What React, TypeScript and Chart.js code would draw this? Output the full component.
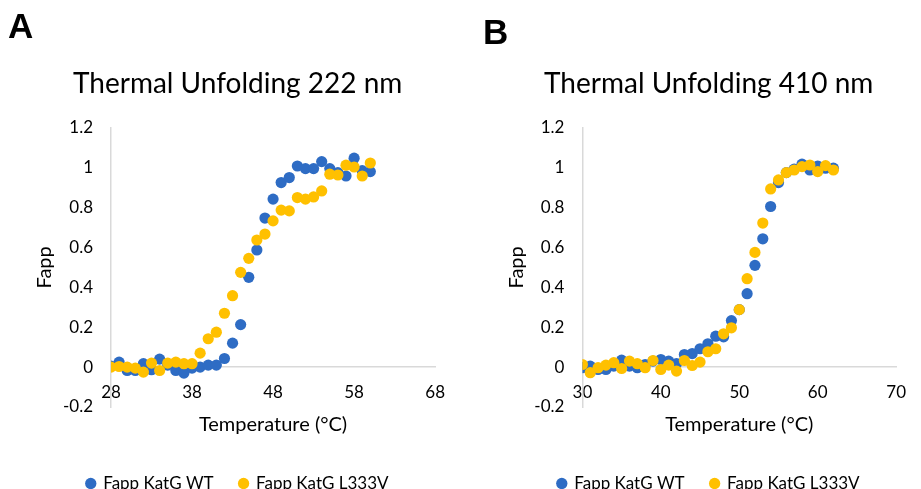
import React, { useEffect, useRef } from 'react';
import { Chart, registerables } from 'chart.js';

Chart.register(...registerables);

// ---------- data ----------
const tempsA = [28, 29, 30, 31, 32, 33, 34, 35, 36, 37, 38, 39, 40, 41, 42, 43, 44, 45, 46, 47, 48, 49, 50, 51, 52, 53, 54, 55, 56, 57, 58, 59, 60];
const wtA = [0.005, 0.025, -0.017, -0.017, 0.017, -0.013, 0.04, 0.01, -0.017, -0.03, -0.005, 0.0, 0.01, 0.01, 0.043, 0.12, 0.213, 0.45, 0.587, 0.747, 0.842, 0.925, 0.95, 1.008, 0.995, 0.995, 1.03, 0.995, 0.975, 0.958, 1.047, 0.985, 0.98];
const mutA = [0.0, 0.003, 0.0, -0.005, -0.025, 0.02, -0.017, 0.02, 0.025, 0.017, 0.017, 0.07, 0.142, 0.175, 0.27, 0.358, 0.475, 0.545, 0.637, 0.667, 0.733, 0.787, 0.783, 0.85, 0.842, 0.853, 0.883, 0.967, 0.963, 1.012, 1.003, 0.958, 1.023];

const tempsB = [30, 31, 32, 33, 34, 35, 36, 37, 38, 39, 40, 41, 42, 43, 44, 45, 46, 47, 48, 49, 50, 51, 52, 53, 54, 55, 56, 57, 58, 59, 60, 61, 62];
const wtB = [-0.003, 0.005, -0.012, -0.012, 0.005, 0.035, 0.005, -0.003, 0.013, 0.03, 0.038, 0.03, 0.018, 0.063, 0.068, 0.092, 0.117, 0.155, 0.152, 0.233, 0.288, 0.368, 0.51, 0.643, 0.805, 0.925, 0.975, 0.992, 1.017, 0.988, 1.008, 0.997, 0.997];
const mutB = [0.013, -0.028, -0.003, 0.01, 0.022, -0.007, 0.03, 0.017, -0.003, 0.033, -0.012, 0.01, -0.02, 0.033, 0.008, 0.025, 0.077, 0.092, 0.167, 0.197, 0.288, 0.443, 0.575, 0.722, 0.893, 0.938, 0.975, 0.988, 1.005, 1.013, 0.98, 1.01, 0.988];

const xTicksA = [28, 38, 48, 58, 68];
const xTicksB = [30, 40, 50, 60, 70];
const yTicks = [-0.2, 0, 0.2, 0.4, 0.6, 0.8, 1, 1.2];

const seriesNames = ['Fapp KatG WT', 'Fapp KatG L333V'];
const chartTitles = ['Thermal Unfolding 222 nm', 'Thermal Unfolding 410 nm'];
const xAxisTitle = 'Temperature (°C)';
const yAxisTitle = 'Fapp';
const panelLetters = ['A', 'B'];

// ---------- styles ----------
const BLUE = '#2E6CC4';
const GOLD = '#FFC000';
const AXIS = '#D9D9D9';
const FONT = 'Lato';

type PanelProps = {
  temps: number[];
  wt: number[];
  mut: number[];
  xTicks: number[];
  title: string;
  left: number;
  width: number;
  padL: number;
  padR: number;
};

function Panel(p: PanelProps) {
  const ref = useRef<HTMLCanvasElement | null>(null);
  useEffect(() => {
    if (!ref.current) return;
    const xMin = p.xTicks[0];
    const xMax = p.xTicks[p.xTicks.length - 1];
    const chart = new Chart(ref.current, {
      type: 'scatter',
      data: {
        datasets: [
          {
            label: seriesNames[0],
            data: p.temps.map((t, i) => ({ x: t, y: p.wt[i] })),
            backgroundColor: BLUE,
            borderColor: BLUE,
            borderWidth: 0,
            pointRadius: 5.6,
            pointHoverRadius: 5.6,
            pointStyle: 'circle',
            order: 1,
          },
          {
            label: seriesNames[1],
            data: p.temps.map((t, i) => ({ x: t, y: p.mut[i] })),
            backgroundColor: GOLD,
            borderColor: GOLD,
            borderWidth: 0,
            pointRadius: 5.6,
            pointHoverRadius: 5.6,
            pointStyle: 'circle',
            order: 0,
          },
        ],
      },
      options: {
        responsive: false,
        animation: false,
        devicePixelRatio: 1,
        events: [],
        layout: { padding: { left: p.padL, right: p.padR, top: 0, bottom: 0 } },
        plugins: {
          title: {
            display: true,
            text: p.title,
            color: '#000',
            font: { family: FONT, size: 28, weight: 'normal' },
            padding: { top: 67.2, bottom: 26.9 },
          },
          legend: {
            position: 'bottom',
            labels: {
              usePointStyle: true,
              boxWidth: 8,
              boxHeight: 8,
              padding: 26,
              color: '#000',
              font: { family: FONT, size: 17 },
              sort: (a: any, b: any) => a.datasetIndex - b.datasetIndex,
            },
          },
          tooltip: { enabled: false },
        },
        scales: {
          x: {
            type: 'linear',
            position: { y: 0 },
            min: xMin,
            max: xMax,
            afterBuildTicks: (s: any) => {
              s.ticks = p.xTicks.map((v) => ({ value: v }));
            },
            afterFit: (s: any) => {
              s.height = 0;
            },
            grid: { display: true, drawOnChartArea: false, drawTicks: false },
            border: { display: true, color: AXIS, width: 1.5 },
            ticks: {
              padding: 15,
              color: '#000',
              autoSkip: false,
              maxRotation: 0,
              font: { family: FONT, size: 17 },
              callback: (v: any) => String(v),
            },
          },
          x2: {
            type: 'linear',
            position: 'bottom',
            min: xMin,
            max: xMax,
            ticks: { display: false },
            grid: { display: false, drawTicks: false },
            border: { display: false },
            title: {
              display: true,
              text: xAxisTitle,
              color: '#000',
              font: { family: FONT, size: 20 },
              padding: { top: 6, bottom: 12 },
            },
          },
          y: {
            type: 'linear',
            position: 'left',
            min: -0.2,
            max: 1.2,
            afterBuildTicks: (s: any) => {
              s.ticks = yTicks.map((v) => ({ value: v }));
            },
            afterFit: (s: any) => {
              s.width = 75;
            },
            grid: { display: true, drawOnChartArea: false, drawTicks: false },
            border: { display: true, color: AXIS, width: 1.5 },
            ticks: {
              padding: 18,
              color: '#000',
              font: { family: FONT, size: 17 },
              callback: (v: any) => String(Math.round(Number(v) * 10) / 10),
            },
            title: {
              display: true,
              text: yAxisTitle,
              color: '#000',
              font: { family: FONT, size: 20, lineHeight: 0.9 },
              padding: { top: 0, bottom: 0 },
            },
          },
        },
      } as any,
    });
    return () => chart.destroy();
  }, []);
  return (
    <canvas
      ref={ref}
      width={p.width}
      height={502}
      style={{ position: 'absolute', left: p.left, top: 0, width: p.width, height: 502 }}
    />
  );
}

export default function App() {
  const letterStyle: React.CSSProperties = {
    position: 'absolute',
    fontFamily: '"Liberation Sans", Arial, sans-serif',
    fontWeight: 'bold',
    fontSize: 35,
    lineHeight: '35px',
    color: '#000',
  };
  return (
    <div
      style={{
        position: 'absolute',
        left: 0,
        top: 0,
        width: 921,
        height: 489,
        overflow: 'hidden',
        background: '#fff',
      }}
    >
      <Panel temps={tempsA} wt={wtA} mut={mutA} xTicks={xTicksA} title={chartTitles[0]} left={0} width={460} padL={36} padR={20.7} />
      <Panel temps={tempsB} wt={wtB} mut={mutB} xTicks={xTicksB} title={chartTitles[1]} left={460} width={461} padL={47.4} padR={11} />
      <div style={{ ...letterStyle, left: 8, top: 8 }}>{panelLetters[0]}</div>
      <div style={{ ...letterStyle, left: 483, top: 14 }}>{panelLetters[1]}</div>
    </div>
  );
}
